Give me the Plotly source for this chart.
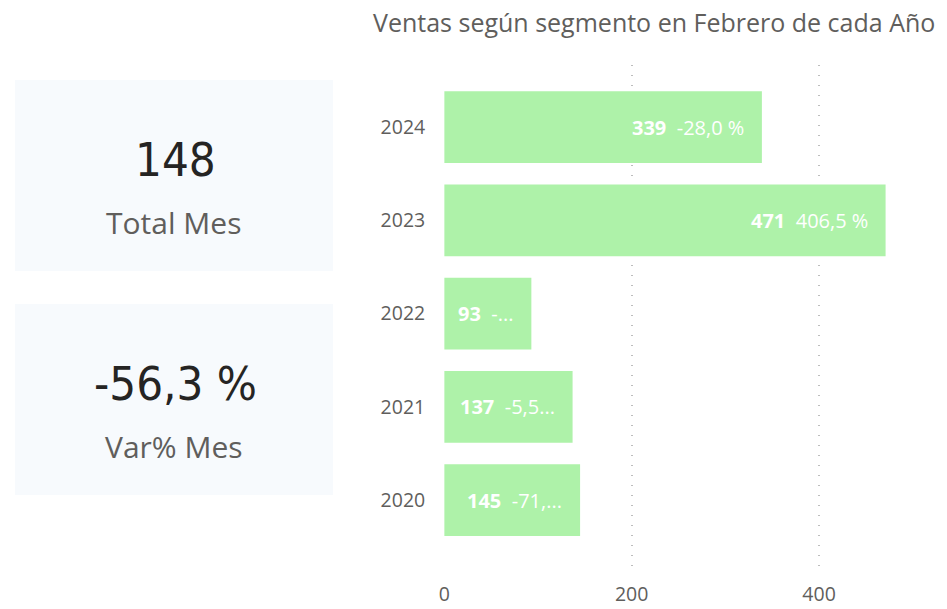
import plotly.graph_objects as go

W, H = 947, 609

years = ["2020", "2021", "2022", "2023", "2024"]
ventas = [145, 137, 93, 471, 339]
var_labels = ["-71,...", "-5,5...", "-...", "406,5 %", "-28,0 %"]

kpi_values = ["148", "-56,3 %"]
kpi_names = ["Total Mes", "Var% Mes"]

BAR_GREEN = "#AEF2A9"
GREY = "#605E5C"


def px_x(x):
    # small nudge: the page renders a few pixels to the right
    return (x - 3) / W


def px_y(y):
    return 1 - y / H


fig = go.Figure()

fig.add_trace(
    go.Bar(
        x=ventas,
        y=years,
        orientation="h",
        marker=dict(color=BAR_GREEN, line=dict(width=0)),
        width=0.77,
        hoverinfo="skip",
    )
)

annotations = []
# category positions given by index (numeric-looking names would be read as indices)
for i, (v, lab) in enumerate(zip(ventas, var_labels)):
    annotations.append(
        dict(
            x=v,
            y=i,
            xref="x",
            yref="y",
            xanchor="right",
            xshift=-16,
            text=f"<b>{v}</b>&nbsp; {lab}",
            showarrow=False,
            font=dict(family="Open Sans", size=20, color="white"),
        )
    )

# title
annotations.append(
    dict(
        x=px_x(370),
        y=px_y(22),
        xref="paper",
        yref="paper",
        xanchor="left",
        yanchor="middle",
        text="Ventas según segmento en Febrero de cada Año",
        showarrow=False,
        font=dict(family="Open Sans", size=25, color=GREY),
    )
)

# KPI cards
shapes = []
card_tops = [80, 304]
for top, val, name in zip(card_tops, kpi_values, kpi_names):
    shapes.append(
        dict(
            type="rect",
            xref="paper",
            yref="paper",
            x0=px_x(12),
            x1=px_x(332),
            y0=px_y(top + 191),
            y1=px_y(top),
            fillcolor="#F7FAFD",
            line=dict(width=0),
            layer="below",
        )
    )
    annotations.append(
        dict(
            x=px_x(174),
            y=px_y(top + 79),
            xref="paper",
            yref="paper",
            text=val,
            showarrow=False,
            xanchor="center",
            yanchor="middle",
            font=dict(family="DejaVu Sans Condensed", size=47, color="#252423"),
        )
    )
    annotations.append(
        dict(
            x=px_x(172),
            y=px_y(top + 142),
            xref="paper",
            yref="paper",
            text=name,
            showarrow=False,
            xanchor="center",
            yanchor="middle",
            font=dict(family="Open Sans", size=30, color=GREY),
        )
    )

fig.update_layout(
    width=W,
    height=H,
    margin=dict(l=0, r=0, t=0, b=0),
    paper_bgcolor="white",
    plot_bgcolor="white",
    showlegend=False,
    annotations=annotations,
    shapes=shapes,
    xaxis=dict(
        domain=[px_x(444), 1],
        range=[0, 503 / 0.9375],
        tickvals=[0, 200, 400],
        showgrid=True,
        gridcolor="#BDBDBD",
        griddash="1px,9px",
        gridwidth=1.5,
        zeroline=False,
        showline=False,
        ticks="",
        ticklabelstandoff=10,
        tickfont=dict(family="Open Sans", size=19.5, color=GREY),
        fixedrange=True,
    ),
    yaxis=dict(
        domain=[px_y(570), px_y(65)],
        type="category",
        categoryorder="array",
        categoryarray=years,
        range=[-0.75, 4.667],
        showgrid=False,
        zeroline=False,
        showline=False,
        ticks="",
        ticklabelstandoff=18,
        tickfont=dict(family="Open Sans", size=19.5, color=GREY),
        fixedrange=True,
    ),
)

fig.write_html(
    "out.html",
    config={"displayModeBar": False},
    post_script="document.body.style.margin='0';",
)
